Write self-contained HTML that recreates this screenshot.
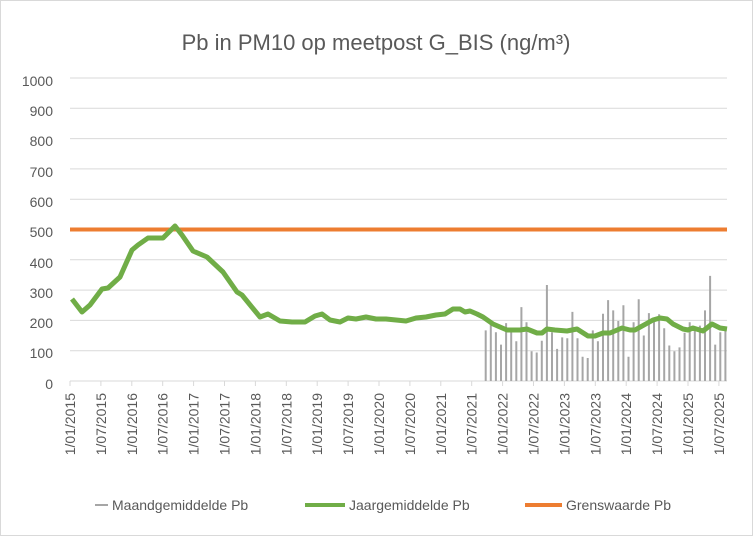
<!DOCTYPE html>
<html><head><meta charset="utf-8"><style>
html,body{margin:0;padding:0;background:#fff}
svg{display:block;font-family:"Liberation Sans",sans-serif}
</style></head><body>
<svg width="753" height="536" viewBox="0 0 753 536">
<rect x="0.5" y="0.5" width="752" height="535" fill="#fff" stroke="#d9d9d9"/>
<text x="376" y="50" text-anchor="middle" font-size="22" fill="#595959">Pb in PM10 op meetpost G_BIS (ng/m³)</text>
<g stroke="#d9d9d9" stroke-width="1">
<line x1="70" x2="727" y1="78" y2="78"/><line x1="70" x2="727" y1="108.3" y2="108.3"/>
<line x1="70" x2="727" y1="138.6" y2="138.6"/><line x1="70" x2="727" y1="168.9" y2="168.9"/>
<line x1="70" x2="727" y1="199.2" y2="199.2"/><line x1="70" x2="727" y1="229.5" y2="229.5"/>
<line x1="70" x2="727" y1="259.8" y2="259.8"/><line x1="70" x2="727" y1="290.1" y2="290.1"/>
<line x1="70" x2="727" y1="320.4" y2="320.4"/><line x1="70" x2="727" y1="350.7" y2="350.7"/>
<line x1="70" x2="727" y1="381" y2="381"/>
</g>
<g font-size="14" fill="#595959" text-anchor="end">
<text x="53" y="86">1000</text><text x="53" y="116">900</text><text x="53" y="146">800</text>
<text x="53" y="177">700</text><text x="53" y="207">600</text><text x="53" y="237">500</text>
<text x="53" y="268">400</text><text x="53" y="298">300</text><text x="53" y="328">200</text>
<text x="53" y="358">100</text><text x="53" y="389">0</text>
</g>
<path stroke="#d9d9d9" fill="none" d="M70,381v5M100.9,381v5M131.8,381v5M162.7,381v5M193.6,381v5M224.5,381v5M255.4,381v5M286.3,381v5M317.2,381v5M348.1,381v5M379,381v5M409.9,381v5M440.8,381v5M471.7,381v5M502.6,381v5M533.5,381v5M564.4,381v5M595.3,381v5M626.2,381v5M657.1,381v5M688,381v5M718.9,381v5"/>
<g font-size="14" fill="#595959" text-anchor="end">
<text transform="translate(75,393) rotate(-90)">1/01/2015</text>
<text transform="translate(105.9,393) rotate(-90)">1/07/2015</text>
<text transform="translate(136.8,393) rotate(-90)">1/01/2016</text>
<text transform="translate(167.7,393) rotate(-90)">1/07/2016</text>
<text transform="translate(198.6,393) rotate(-90)">1/01/2017</text>
<text transform="translate(229.5,393) rotate(-90)">1/07/2017</text>
<text transform="translate(260.4,393) rotate(-90)">1/01/2018</text>
<text transform="translate(291.3,393) rotate(-90)">1/07/2018</text>
<text transform="translate(322.2,393) rotate(-90)">1/01/2019</text>
<text transform="translate(353.1,393) rotate(-90)">1/07/2019</text>
<text transform="translate(384,393) rotate(-90)">1/01/2020</text>
<text transform="translate(414.9,393) rotate(-90)">1/07/2020</text>
<text transform="translate(445.8,393) rotate(-90)">1/01/2021</text>
<text transform="translate(476.7,393) rotate(-90)">1/07/2021</text>
<text transform="translate(507.6,393) rotate(-90)">1/01/2022</text>
<text transform="translate(538.5,393) rotate(-90)">1/07/2022</text>
<text transform="translate(569.4,393) rotate(-90)">1/01/2023</text>
<text transform="translate(600.3,393) rotate(-90)">1/07/2023</text>
<text transform="translate(631.2,393) rotate(-90)">1/01/2024</text>
<text transform="translate(662.1,393) rotate(-90)">1/07/2024</text>
<text transform="translate(693,393) rotate(-90)">1/01/2025</text>
<text transform="translate(723.9,393) rotate(-90)">1/07/2025</text>
</g>
<path stroke="#a6a6a6" stroke-width="2" fill="none" d="M485.7,381V330.4M490.8,381V323.7M495.9,381V332.2M501,381V344.6M506.1,381V323.1M511.2,381V328.9M516.3,381V341.3M521.4,381V307.1M526.5,381V322.2M531.6,381V351.3M536.7,381V352.5M541.8,381V340.7M546.9,381V285M552,381V332.2M557.1,381V348.9M562.2,381V337.4M567.3,381V338.3M572.4,381V311.9M577.5,381V338.3M582.6,381V356.8M587.7,381V358M592.8,381V330.4M597.9,381V341.3M603,381V313.7M608.1,381V300.1M613.2,381V310.4M618.3,381V321M623.4,381V305.3M628.5,381V356.8M633.6,381V322.2M638.7,381V299.2M643.8,381V335.5M648.9,381V313.1M654,381V320.4M659.1,381V314.3M664.2,381V328.3M669.3,381V345.5M674.4,381V351.3M679.5,381V347.4M684.6,381V332.8M689.7,381V322.2M694.8,381V328.9M699.9,381V325.6M705,381V310.4M710.1,381V275.9M715.2,381V344.6M720.3,381V332.2M725.4,381V330.4"/>
<line x1="70" x2="727" y1="229.5" y2="229.5" stroke="#ed7d31" stroke-width="4"/>
<polyline fill="none" stroke="#70ad47" stroke-width="5" stroke-linejoin="round" points="72,299 82,312 90,305 102,289 108,288 120,277 132,250 138,245 148,238 163,238 175,226 182,235 193,251 207,257 223,272 237,292 242,295 260,317 268,314 280,321 292,322 305,322 315,316 322,314 330,320 340,322 348,318 356,319 366,317 376,319 386,319 396,320 406,321 416,318 426,317 436,315 445,314 453,309 460,309 465,312 470,311 477,314 483,317 493,324 507,330 520,330 527,329 537,333 542,333 547,329 555,330 567,331 577,329 588,336 595,336 603,333 610,333 622,328 630,330 635,330 653,320 660,318 667,319 673,324 683,329 688,330 693,328 703,331 712,324 720,328 727,329"/>
<g font-size="14" fill="#595959">
<line x1="95" x2="108" y1="505" y2="505" stroke="#a6a6a6" stroke-width="2"/>
<text x="112" y="510">Maandgemiddelde Pb</text>
<line x1="305" x2="345" y1="505" y2="505" stroke="#70ad47" stroke-width="4"/>
<text x="349" y="510">Jaargemiddelde Pb</text>
<line x1="525" x2="562" y1="505" y2="505" stroke="#ed7d31" stroke-width="4"/>
<text x="566" y="510">Grenswaarde Pb</text>
</g>
</svg>
</body></html>
